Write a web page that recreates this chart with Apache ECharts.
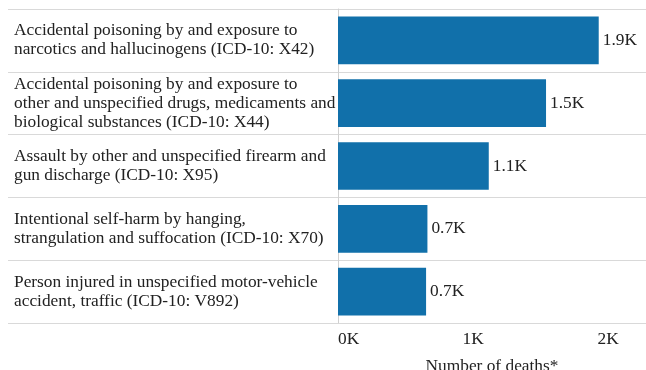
<!DOCTYPE html>
<html>
<head>
<meta charset="utf-8">
<script src="https://cdn.jsdelivr.net/npm/echarts@6/dist/echarts.min.js"></script>
<style>
  html, body { margin: 0; padding: 0; background: #fff; }
  #chart { width: 646px; height: 370px; }
</style>
</head>
<body>
<div id="chart"></div>
<script>
// Leading causes, top to bottom
const causes = [
  'Accidental poisoning by and exposure to\nnarcotics and hallucinogens (ICD-10: X42)',
  'Accidental poisoning by and exposure to\nother and unspecified drugs, medicaments and\nbiological substances (ICD-10: X44)',
  'Assault by other and unspecified firearm and\ngun discharge (ICD-10: X95)',
  'Intentional self-harm by hanging,\nstrangulation and suffocation (ICD-10: X70)',
  'Person injured in unspecified motor-vehicle\naccident, traffic (ICD-10: V892)'
];
// Number of deaths per cause
const deaths = [1930, 1540, 1116, 662, 652];
// Value axis ticks
const tickValues = [0, 1000, 2000];

const FONT = 'Liberation Serif';
const FS = 17.33;
const fmtK = v => (Math.round(v / 100) / 10) + 'K';

const chart = echarts.init(document.getElementById('chart'));
chart.setOption({
  animation: false,
  textStyle: { fontFamily: FONT },
  grid: [
    { left: 8, right: 0, top: 9, bottom: 47, outerBoundsMode: 'none', containLabel: false },
    { left: 338, right: 0, top: 9, bottom: 47, outerBoundsMode: 'none', containLabel: false }
  ],
  xAxis: [
    { gridIndex: 0, type: 'value', show: false, min: 0, max: 1 },
    {
      gridIndex: 1, type: 'value', min: 0, max: 2280, interval: 1000,
      axisLine: { show: false },
      axisTick: { show: false },
      splitLine: { show: false },
      axisLabel: {
        fontFamily: FONT, fontSize: FS, color: '#222', margin: 8,
        alignMinLabel: 'left',
        showMaxLabel: false,
        formatter: v => tickValues.includes(v) ? (v / 1000) + 'K' : ''
      },
      name: 'Number of deaths*', nameLocation: 'middle', nameGap: 35,
      nameTextStyle: { fontFamily: FONT, fontSize: FS, color: '#222' }
    }
  ],
  yAxis: [
    {
      gridIndex: 0, type: 'category', inverse: true, data: causes,
      axisLine: { show: false }, axisTick: { show: false },
      splitLine: { show: true, lineStyle: { color: '#d9d9d9', width: 1 } },
      axisLabel: {
        inside: true, margin: 6, align: 'left',
        fontFamily: FONT, fontSize: FS, lineHeight: 19, color: '#222'
      }
    },
    {
      gridIndex: 1, type: 'category', inverse: true, data: causes,
      axisLine: { show: true, lineStyle: { color: '#d0d0d0' } },
      axisTick: { show: false }, axisLabel: { show: false },
      splitLine: { show: false }
    }
  ],
  series: [{
    type: 'bar', xAxisIndex: 1, yAxisIndex: 1,
    data: deaths, barCategoryGap: '24%',
    itemStyle: { color: '#1170aa' },
    label: {
      show: true, position: 'right', distance: 4,
      fontFamily: FONT, fontSize: FS, color: '#222',
      formatter: p => fmtK(p.value)
    }
  }]
});
</script>
</body>
</html>
